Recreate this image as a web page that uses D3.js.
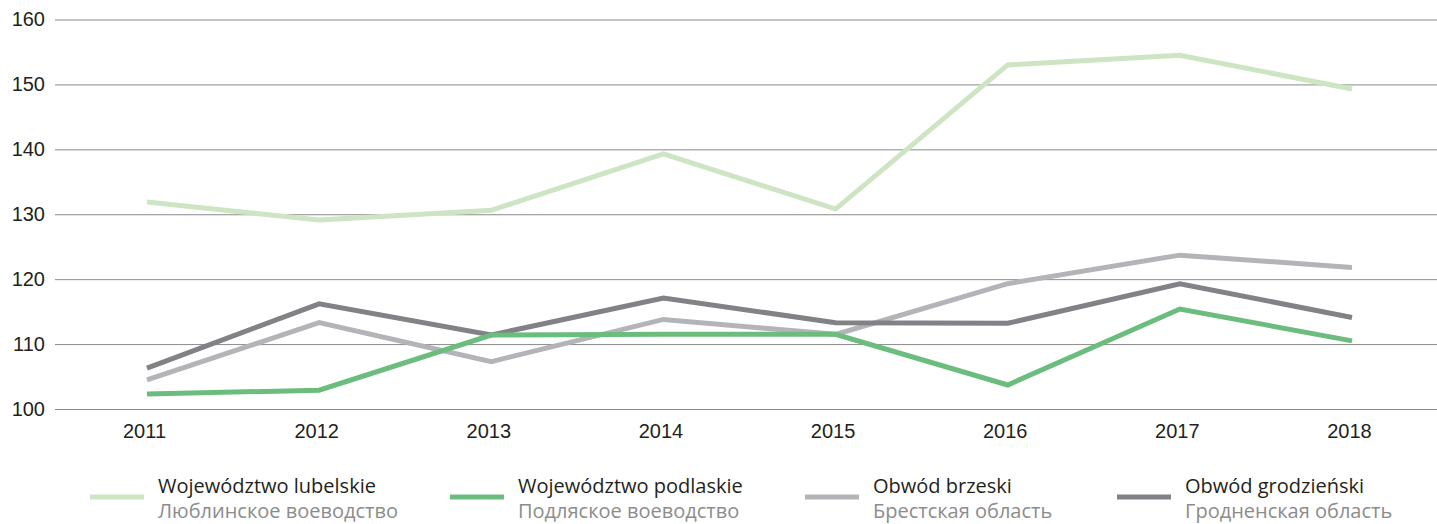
<!DOCTYPE html>
<html>
<head>
<meta charset="utf-8">
<script src="https://cdn.jsdelivr.net/npm/d3@7"></script>
<style>
  html, body { margin: 0; padding: 0; background: #fff; }
  svg { display: block; font-family: "Open Sans", "Noto Sans", sans-serif; }
</style>
</head>
<body>
<svg id="chart" width="1437" height="524"></svg>
<script>
// Years on the horizontal axis
const years = ["2011", "2012", "2013", "2014", "2015", "2016", "2017", "2018"];

// Index values per region
const lubelskie   = [131.9, 129.1, 130.6, 139.3, 130.8, 153.0, 154.5, 149.3];
const podlaskie   = [102.3, 102.9, 111.4, 111.5, 111.5, 103.7, 115.4, 110.5];
const brzeski     = [104.5, 113.3, 107.3, 113.8, 111.5, 119.3, 123.7, 121.8];
const grodzienski = [106.3, 116.2, 111.4, 117.1, 113.3, 113.2, 119.3, 114.1];

// Vertical axis ticks
const yTicks = [100, 110, 120, 130, 140, 150, 160];

// Series: names in Polish and Russian, colours
const seriesNames = ["Województwo lubelskie", "Województwo podlaskie", "Obwód brzeski", "Obwód grodzieński"];
const seriesNamesRu = ["Люблинское воеводство", "Подляское воеводство", "Брестская область", "Гродненская область"];
const seriesValues = [lubelskie, podlaskie, brzeski, grodzienski];
const seriesColors = ["#cde5c3", "#6bbd7e", "#b4b4b8", "#818186"];

const svg = d3.select("#chart");

const x = d3.scalePoint().domain(years).range([147, 1352]);
const y = d3.scaleLinear().domain([100, 160]).range([409, 19.5]);

// Horizontal gridlines with labels on the left
const yAxis = d3.axisLeft(y)
  .tickValues(yTicks)
  .tickSize(-(1437 - 55))
  .tickPadding(10)
  .tickFormat(d3.format("d"));

const gy = svg.append("g")
  .attr("transform", "translate(55,0)")
  .call(yAxis);
gy.select(".domain").remove();
gy.selectAll(".tick line").attr("stroke", "#8a8a8a").attr("stroke-width", 1);
gy.selectAll(".tick text")
  .attr("fill", "#231f20")
  .attr("font-size", 20)
  .attr("x", -10);

// Year labels below the plot
const xAxis = d3.axisBottom(x).tickSize(0).tickPadding(0);
const gx = svg.append("g")
  .attr("transform", "translate(-3,423)")
  .call(xAxis);
gx.select(".domain").remove();
gx.selectAll(".tick text")
  .attr("fill", "#231f20")
  .attr("font-size", 20)
  .attr("dy", "0.75em");

// Lines (podlaskie drawn last so it sits on top)
const drawOrder = [0, 2, 3, 1];
const line = d3.line()
  .x((d, i) => x(years[i]))
  .y(d => y(d));

svg.append("g")
  .selectAll("path")
  .data(drawOrder)
  .join("path")
  .attr("d", k => line(seriesValues[k]))
  .attr("fill", "none")
  .attr("stroke", k => seriesColors[k])
  .attr("stroke-width", 5)
  .attr("stroke-linejoin", "miter")
  .attr("stroke-linecap", "butt");

// Legend
const legendX = [90, 450, 805, 1117];
const legend = svg.append("g")
  .selectAll("g")
  .data(seriesNames)
  .join("g")
  .attr("transform", (d, i) => `translate(${legendX[i]},0)`);

legend.append("line")
  .attr("x1", 0).attr("x2", 54)
  .attr("y1", 497).attr("y2", 497)
  .attr("stroke", (d, i) => seriesColors[i])
  .attr("stroke-width", 5);

legend.append("text")
  .attr("x", 68)
  .attr("y", 493)
  .attr("font-size", 20)
  .attr("fill", "#231f20")
  .text(d => d);

legend.append("text")
  .attr("x", 68)
  .attr("y", 518)
  .attr("font-size", 20)
  .attr("fill", "#8c8c8c")
  .text((d, i) => seriesNamesRu[i]);
</script>
</body>
</html>
